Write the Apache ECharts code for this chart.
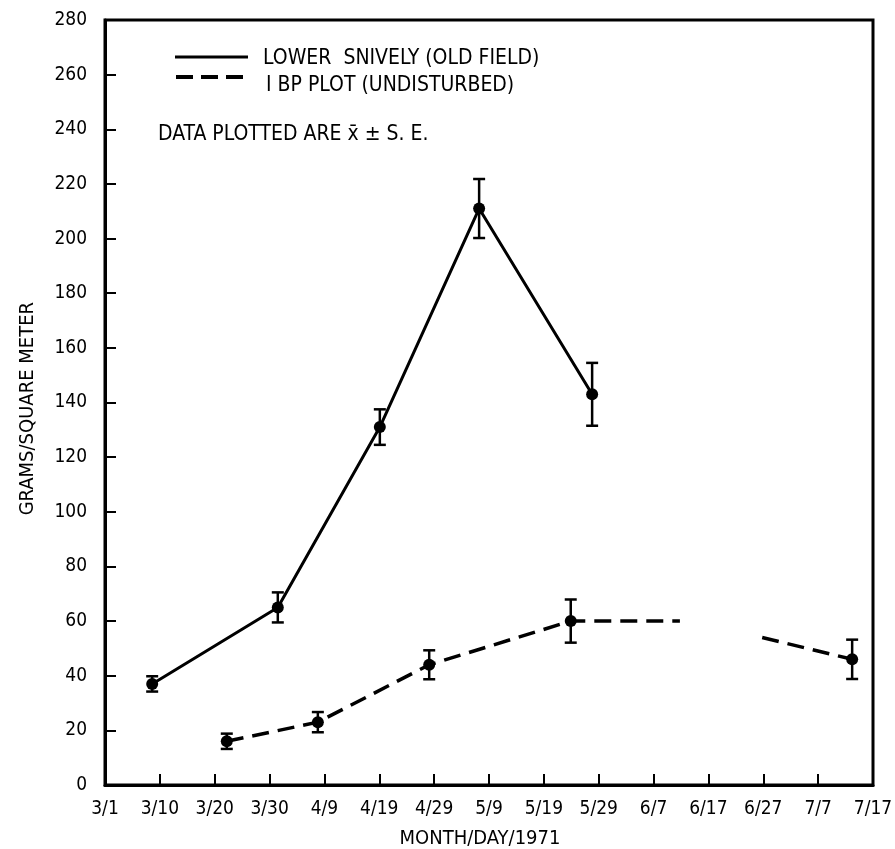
<!DOCTYPE html>
<html>
<head>
<meta charset="utf-8">
<script src="https://cdn.jsdelivr.net/npm/echarts@6/dist/echarts.min.js"></script>
<style>
  html, body { margin: 0; padding: 0; background: #fff; }
  #chart { width: 895px; height: 849px; }
</style>
</head>
<body>
<div id="chart"></div>
<script>
// Day offsets are counted from March 1, 1971; one tick every 10 days.
const tickLabels = ['3/1', '3/10', '3/20', '3/30', '4/9', '4/19', '4/29', '5/9',
                    '5/19', '5/29', '6/7', '6/17', '6/27', '7/7', '7/17'];

// Lower Snively (old field): mean and standard error, g/m^2
const snivelyDay  = [8.6, 31.5, 50.1, 68.2, 88.8];
const snivelyMean = [37, 65, 131, 211, 143];
const snivelySE   = [2.8, 5.5, 6.5, 10.8, 11.5];

// IBP plot (undisturbed)
const ibpDay  = [22.2, 38.8, 59.1, 84.9, 136.2];
const ibpMean = [16, 23, 44, 60, 46];
const ibpSE   = [2.8, 3.7, 5.3, 7.9, 7.2];

// Dashed IBP trace, broken over the unsampled weeks in June
const ibpTraceDay   = [22.2, 38.8, 59.1, 84.9, 104.8, null, 119.8, 136.2];
const ibpTraceValue = [16, 23, 44, 60, 60, null, 54, 46];

const FONT = '"DejaVu Sans Condensed", "Liberation Sans Narrow", "Arial Narrow", sans-serif';

const pairs = (xs, ys) => xs.map((x, i) => (x === null ? '-' : [x, ys[i]]));
const errRows = (xs, m, se) => xs.map((x, i) => [x, m[i] - se[i], m[i] + se[i]]);

function errorBar(params, api) {
  const x = api.value(0);
  const lo = api.coord([x, api.value(1)]);
  const hi = api.coord([x, api.value(2)]);
  const half = 6;
  const style = { stroke: '#000', lineWidth: 2.5, fill: null };
  return {
    type: 'group',
    children: [
      { type: 'line', shape: { x1: lo[0], y1: lo[1], x2: hi[0], y2: hi[1] }, style },
      { type: 'line', shape: { x1: lo[0] - half, y1: lo[1], x2: lo[0] + half, y2: lo[1] }, style },
      { type: 'line', shape: { x1: hi[0] - half, y1: hi[1], x2: hi[0] + half, y2: hi[1] }, style }
    ]
  };
}

const chart = echarts.init(document.getElementById('chart'));
chart.setOption({
  backgroundColor: '#fff',
  animation: false,
  grid: {
    left: 105, right: 22, top: 20, bottom: 64,
    containLabel: false, outerBoundsMode: 'none',
    show: true, borderColor: '#000', borderWidth: 3, backgroundColor: 'transparent'
  },
  xAxis: {
    type: 'value', min: 0, max: 140, interval: 10,
    name: 'MONTH/DAY/1971', nameLocation: 'middle', nameGap: 44,
    nameTextStyle: { fontFamily: FONT, fontSize: 20, color: '#000', padding: [0, 18, 0, 0] },
    axisLine: { lineStyle: { color: '#000', width: 3 } },
    axisTick: { inside: true, length: 11, lineStyle: { color: '#000', width: 2 } },
    axisLabel: {
      fontFamily: FONT, fontSize: 19, color: '#000', margin: 15,
      formatter: v => tickLabels[Math.round(v / 10)] || ''
    },
    splitLine: { show: false }
  },
  yAxis: {
    type: 'value', min: 0, max: 280, interval: 20,
    axisLine: { lineStyle: { color: '#000', width: 3 } },
    axisTick: { inside: true, length: 11, lineStyle: { color: '#000', width: 2 } },
    axisLabel: { fontFamily: FONT, fontSize: 19, color: '#000', margin: 18 },
    splitLine: { show: false }
  },
  graphic: [
    { type: 'text', left: 18, top: 302, rotation: Math.PI / 2,
      style: { text: 'GRAMS/SQUARE METER', font: '20px ' + FONT, fill: '#000' },
      originX: 0, originY: 0 },
    { type: 'line', shape: { x1: 175, y1: 57, x2: 248, y2: 57 },
      style: { stroke: '#000', lineWidth: 3 } },
    { type: 'line', shape: { x1: 176, y1: 77, x2: 244, y2: 77 },
      style: { stroke: '#000', lineWidth: 4, lineDash: [17, 8] } },
    { type: 'text', left: 263, top: 48,
      style: { text: 'LOWER  SNIVELY (OLD FIELD)', font: '21px ' + FONT, fill: '#000' } },
    { type: 'text', left: 266, top: 75,
      style: { text: 'I BP PLOT (UNDISTURBED)', font: '21px ' + FONT, fill: '#000' } },
    { type: 'text', left: 158, top: 124,
      style: { text: 'DATA PLOTTED ARE x\u0304 \u00b1 S. E.', font: '21px ' + FONT, fill: '#000' } }
  ],
  series: [
    {
      name: 'LOWER SNIVELY (OLD FIELD)', type: 'line',
      data: pairs(snivelyDay, snivelyMean),
      symbol: 'circle', symbolSize: 12, showSymbol: true,
      itemStyle: { color: '#000', opacity: 1 },
      lineStyle: { color: '#000', width: 3 }, z: 3
    },
    {
      name: 'IBP PLOT (UNDISTURBED)', type: 'line',
      data: pairs(ibpTraceDay, ibpTraceValue),
      showSymbol: false, connectNulls: false,
      lineStyle: { color: '#000', width: 3.5, type: [17, 9] }, z: 3
    },
    {
      type: 'scatter', data: pairs(ibpDay, ibpMean),
      symbol: 'circle', symbolSize: 12, itemStyle: { color: '#000', opacity: 1 }, z: 4
    },
    { type: 'custom', renderItem: errorBar, data: errRows(snivelyDay, snivelyMean, snivelySE), z: 5 },
    { type: 'custom', renderItem: errorBar, data: errRows(ibpDay, ibpMean, ibpSE), z: 5 }
  ]
});
</script>
</body>
</html>
